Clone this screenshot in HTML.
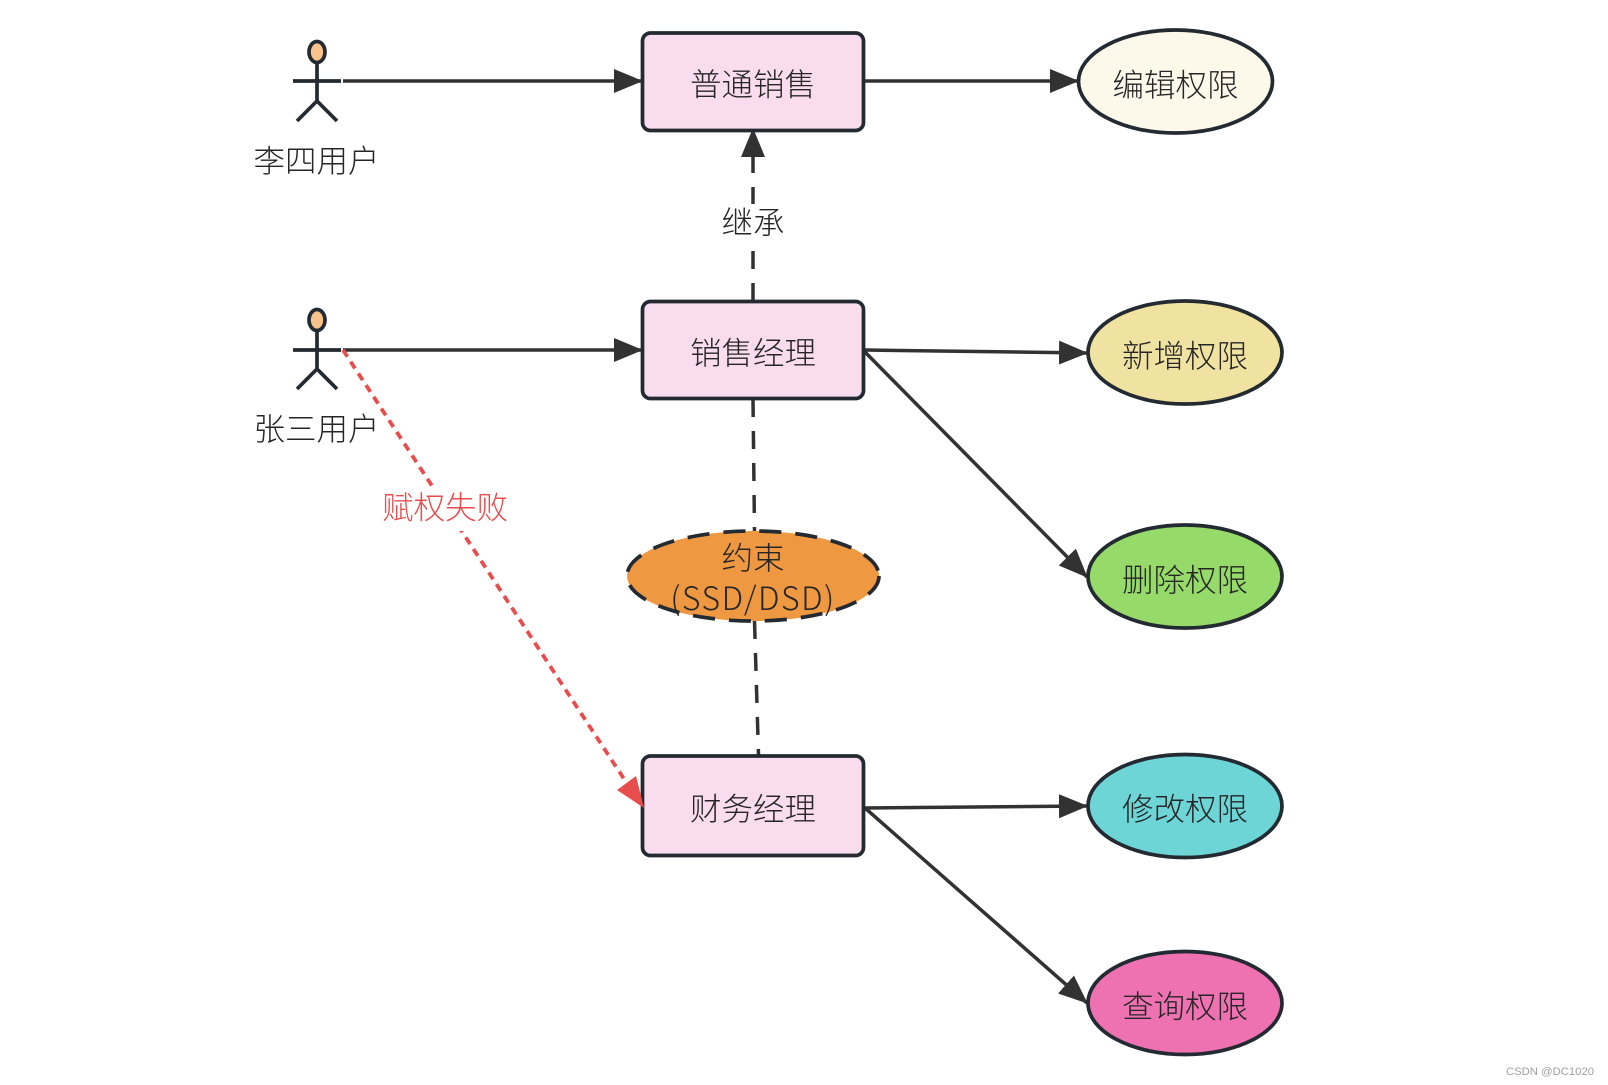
<!DOCTYPE html>
<html><head><meta charset="utf-8"><style>
html,body{margin:0;padding:0;background:#fff;width:1608px;height:1085px;overflow:hidden}
svg{display:block}
text{font-family:"Noto Sans CJK SC","Liberation Sans",sans-serif;font-size:31.500px;fill:#262626;text-anchor:middle;font-weight:300}
.l{stroke:#323232;stroke-width:3.5;fill:none}
.d{stroke:#323232;stroke-width:3.5;fill:none;stroke-dasharray:18 14}
.n{stroke:#232a31;stroke-width:3.7}
</style></head><body>
<svg width="1608" height="1085" viewBox="0 0 1608 1085" xmlns="http://www.w3.org/2000/svg">
<defs>
<marker id="a" markerUnits="userSpaceOnUse" markerWidth="34" markerHeight="28" refX="28" refY="13" orient="auto"><path d="M0 1L29 13L0 25Z" fill="#323232"/></marker>
</defs>

<line class="l" x1="343" y1="81" x2="642" y2="81" marker-end="url(#a)"/>
<line class="l" x1="343" y1="350" x2="642" y2="350" marker-end="url(#a)"/>
<line class="l" x1="865" y1="81" x2="1078" y2="81" marker-end="url(#a)"/>
<line class="l" x1="865" y1="350" x2="1087" y2="353" marker-end="url(#a)"/>
<line class="l" x1="865" y1="352" x2="1087" y2="577" marker-end="url(#a)"/>
<line class="l" x1="865" y1="808" x2="1087" y2="806" marker-end="url(#a)"/>
<line class="l" x1="865" y1="808" x2="1087" y2="1003" marker-end="url(#a)"/>
<line class="d" x1="753" y1="301" x2="753" y2="129" marker-end="url(#a)"/>
<line class="d" x1="753" y1="399" x2="754.500" y2="531"/>
<line class="d" x1="754.500" y1="621" x2="758.500" y2="755"/>
<line x1="343" y1="350" x2="628" y2="785" stroke="#e84d4d" stroke-width="3.800" stroke-dasharray="8 6" fill="none"/>

<rect x="716" y="204" width="74" height="38" fill="#fff"/>
<text x="753" y="233.500">继承</text>
<rect x="378" y="487" width="134" height="44" fill="#fff"/>
<text x="445" y="518.500" style="fill:#e84d4d">赋权失败</text>

<rect class="n" x="642.500" y="33" width="221" height="97.500" rx="8" fill="#f9dced"/>
<rect class="n" x="642.500" y="301.500" width="221" height="97" rx="8" fill="#f9dced"/>
<rect class="n" x="642.500" y="756" width="221" height="99.500" rx="8" fill="#f9dced"/>
<text x="753" y="95.500">普通销售</text>
<text x="753" y="364">销售经理</text>
<text x="753" y="820">财务经理</text>

<polygon points="644,808 617,790 636,776" fill="#e84d4d"/>

<ellipse class="n" cx="1175.500" cy="81.500" rx="97" ry="51.500" fill="#fdf9ea"/>
<ellipse class="n" cx="1185" cy="352.500" rx="97" ry="51.500" fill="#f0e2a0"/>
<ellipse class="n" cx="1185" cy="576.500" rx="97" ry="51.500" fill="#96da69"/>
<ellipse class="n" cx="1185" cy="806" rx="97" ry="51.500" fill="#6ed5d7"/>
<ellipse class="n" cx="1185" cy="1003" rx="97" ry="51.500" fill="#ee72b1"/>
<text x="1175.500" y="96">编辑权限</text>
<text x="1185" y="367">新增权限</text>
<text x="1185" y="591">删除权限</text>
<text x="1185" y="820">修改权限</text>
<text x="1185" y="1017.500">查询权限</text>

<ellipse cx="753" cy="576" rx="126" ry="45" fill="#ee9842" stroke="#232a31" stroke-width="3.700" stroke-dasharray="22 14"/>
<text x="753" y="569">约束</text>
<text x="753" y="610" style="font-size:32px;letter-spacing:1.500px">(SSD/DSD)</text>

<g stroke="#232a31" stroke-width="3.700" fill="none">
<ellipse cx="317" cy="52" rx="8" ry="10.500" fill="#f8c48c"/>
<path d="M317 62.500V101M293 81H341M297 121L317 101L337 121"/>
<ellipse cx="317" cy="320" rx="8" ry="10.500" fill="#f8c48c"/>
<path d="M317 330.500V369M293 350H341M297 389L317 369L337 389"/>
</g>
<text x="316.500" y="172">李四用户</text>
<text x="316.500" y="440">张三用户</text>
<text x="1550" y="1075" style="font-family:'Liberation Sans',sans-serif;font-size:11.300px;fill:#a0a0a0;font-weight:400">CSDN @DC1020</text>
</svg>
</body></html>
